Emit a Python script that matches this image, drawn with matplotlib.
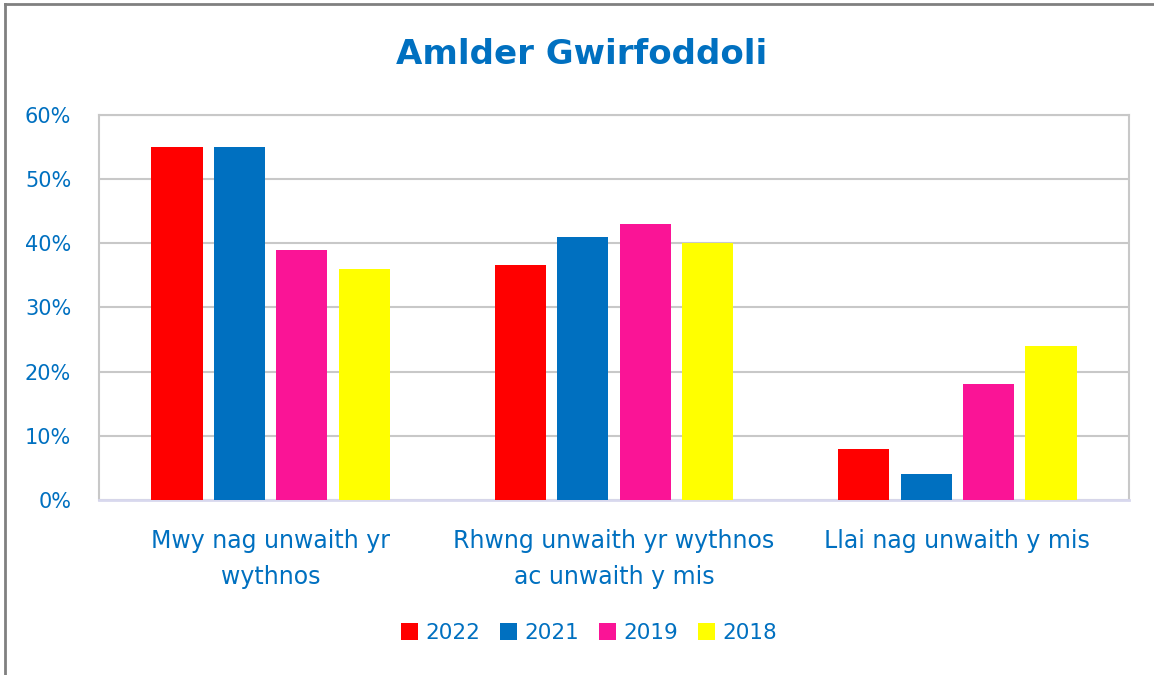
import matplotlib

matplotlib.use("Agg")
import matplotlib.pyplot as plt  # noqa: E402
import numpy as np  # noqa: E402
from matplotlib.lines import Line2D  # noqa: E402

categories = ["Mwy nag unwaith yr\nwythnos",
              "Rhwng unwaith yr wythnos\nac unwaith y mis",
              "Llai nag unwaith y mis"]
years = ["2022", "2021", "2019", "2018"]
values = {
    "2022": [55, 36.7, 8],
    "2021": [55, 41, 4],
    "2019": [39, 43, 18],
    "2018": [36, 40, 24],
}
colors = {"2022": "#FF0000", "2021": "#0070C0", "2019": "#FA1496", "2018": "#FFFF00"}

BLUE = "#0070C0"
plt.rcParams["font.family"] = ["DejaVu Sans"]

fig = plt.figure(figsize=(11.54, 6.75), dpi=100)
ax = fig.add_axes([99 / 1154, 1 - 500 / 675, 1030 / 1154, 385 / 675])

x = np.arange(len(categories))
pitch = 0.182
width = 0.149
for i, yr in enumerate(years):
    ax.bar(x + (i - 1.5) * pitch, values[yr], width=width, color=colors[yr],
           label=yr, zorder=3)

ax.set_xlim(-0.5, len(categories) - 0.5)
ax.set_ylim(0, 60)
ax.set_yticks(range(0, 61, 10))
ax.set_yticklabels([f"{v}%" for v in range(0, 61, 10)], fontsize=15, color=BLUE)
ax.set_xticks(x)
ax.set_xticklabels(categories, fontsize=17, color=BLUE, linespacing=1.6)
ax.tick_params(axis="both", length=0)
ax.tick_params(axis="y", pad=20)
ax.tick_params(axis="x", pad=21)
ax.grid(axis="y", color="#c8c8c8", lw=1.5, zorder=0)
for side in ("top", "right", "left"):
    ax.spines[side].set_color("#c8c8c8")
    ax.spines[side].set_linewidth(1.5)
ax.spines["bottom"].set_color("#d8d8ee")
ax.spines["bottom"].set_linewidth(2)

fig.text(582 / 1154, 1 - 55 / 675, "Amlder Gwirfoddoli", ha="center", va="center",
         fontsize=24.5, fontweight="bold", color=BLUE)

leg = fig.legend(loc="center", bbox_to_anchor=(589 / 1154, 1 - 633 / 675), ncol=4,
                 frameon=False, fontsize=15.5, handlelength=0.8, handleheight=0.8,
                 handletextpad=0.35, columnspacing=0.9)
for t in leg.get_texts():
    t.set_color(BLUE)

# outer chart frame (left and top edges visible)
fig.add_artist(Line2D([5 / 1154, 5 / 1154], [0, 1 - 4 / 675], transform=fig.transFigure,
                      color="#808080", lw=2))
fig.add_artist(Line2D([5 / 1154, 1], [1 - 4 / 675, 1 - 4 / 675], transform=fig.transFigure,
                      color="#808080", lw=2))

fig.savefig("out.png", dpi=100)
